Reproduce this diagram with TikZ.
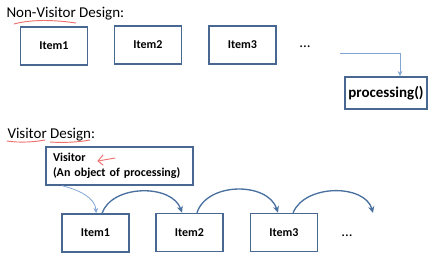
\documentclass[tikz,border=0pt]{standalone}
\usepackage{fontspec}
\setmainfont{Carlito}
\usetikzlibrary{arrows.meta}

\definecolor{boxline}{RGB}{72,104,146}
\definecolor{arcline}{RGB}{74,112,160}
\definecolor{thinline}{RGB}{130,165,210}
\definecolor{inkred}{RGB}{238,112,108}

\tikzset{every picture/.style={line width=0.75pt}}
\tikzset{
	heading/.style={anchor=base west,inner sep=0pt,font=\fontsize{11.25}{13.5}\selectfont},
	itembox/.style={draw=boxline,line width=1.1pt,minimum width=50.5pt,minimum height=28.5pt,inner sep=0pt,font=\bfseries\fontsize{9}{11}\selectfont},
	procbox/.style={itembox,minimum width=61.5pt,minimum height=24pt,font=\bfseries\fontsize{11.25}{13}\selectfont},
	visitorbox/.style={draw=boxline,line width=1.1pt,minimum height=28.5pt,text width=99.75pt,inner xsep=5.25pt,inner ysep=0pt,align=left,font=\bfseries\fontsize{9}{11.25}\selectfont},
	moredots/.style={inner sep=0pt,font=\fontsize{11.25}{13}\selectfont},
	thinarrow/.style={draw=thinline,line width=0.6pt,-{Stealth[length=4pt,width=3.5pt]}},
	arcarrow/.style={draw=arcline,line width=1pt,-{Stealth[length=5pt,width=4.5pt]}},
	ink/.style={draw=inkred,line width=0.7pt,line cap=round,line join=round}
}

\begin{document}
\begin{tikzpicture}[x=0.75pt,y=0.75pt,yscale=-1,xscale=1]
	\useasboundingbox (0,0) rectangle (431,255);

	% Non-visitor layout
	\node[heading] (nvtitle) at (6,17) {Non-Visitor Design:};
	\draw[ink] (14,24) .. controls (32,19) and (56,20) .. (76,23);

	\node[itembox] (a1) at (54,46) {Item1};
	\node[itembox] (a2) at (148,45) {Item2};
	\node[itembox] (a3) at (242.5,45) {Item3};
	\node[moredots] (adots) at (305,47) {...};
	\node[procbox] (proc) at (386,93) {processing()};

	\coordinate (afrom) at (340,53);
	\draw[thinarrow] (afrom) -| ([xshift=10.5pt]proc.north);

	% Visitor layout
	\node[heading] (vtitle) at (7,138) {Visitor Design:};
	\draw[ink] (7,141) .. controls (20,143) and (34,142) .. (45,140);
	\draw[ink] (50,142) .. controls (64,143) and (80,142) .. (90,140);

	\node[visitorbox] (visitor) at (119.5,166) {Visitor\\(An object of processing)};
	% hand drawn pointer
	\draw[ink] (115,158) -- (98,161);
	\draw[ink] (103,155) .. controls (100,158) .. (98,161) .. controls (100,163) .. (103,165);

	\node[itembox] (b1) at (95.5,233) {Item1};
	\node[itembox] (b2) at (189.5,232.5) {Item2};
	\node[itembox] (b3) at (284,232.5) {Item3};
	\node[moredots] (bdots) at (347,236) {...};
	\coordinate (bnext) at (373,213);

	\draw[thinarrow] ([xshift=-43pt]visitor.south) .. controls +(16,4) and +(-1,-16) .. ([xshift=0.5pt]b1.north);
	\draw[arcarrow] ([xshift=4.9pt]b1.north) .. controls +(10,-29) and +(-10,-29) .. ([xshift=-5.6pt]b2.north);
	\draw[arcarrow] ([xshift=5.6pt]b2.north) .. controls +(10,-31) and +(-10,-31) .. ([xshift=-4.5pt]b3.north);
	\draw[arcarrow] ([xshift=6.8pt]b3.north) .. controls +(12,-29) and +(-8,-29) .. (bnext);

\end{tikzpicture}
\end{document}
